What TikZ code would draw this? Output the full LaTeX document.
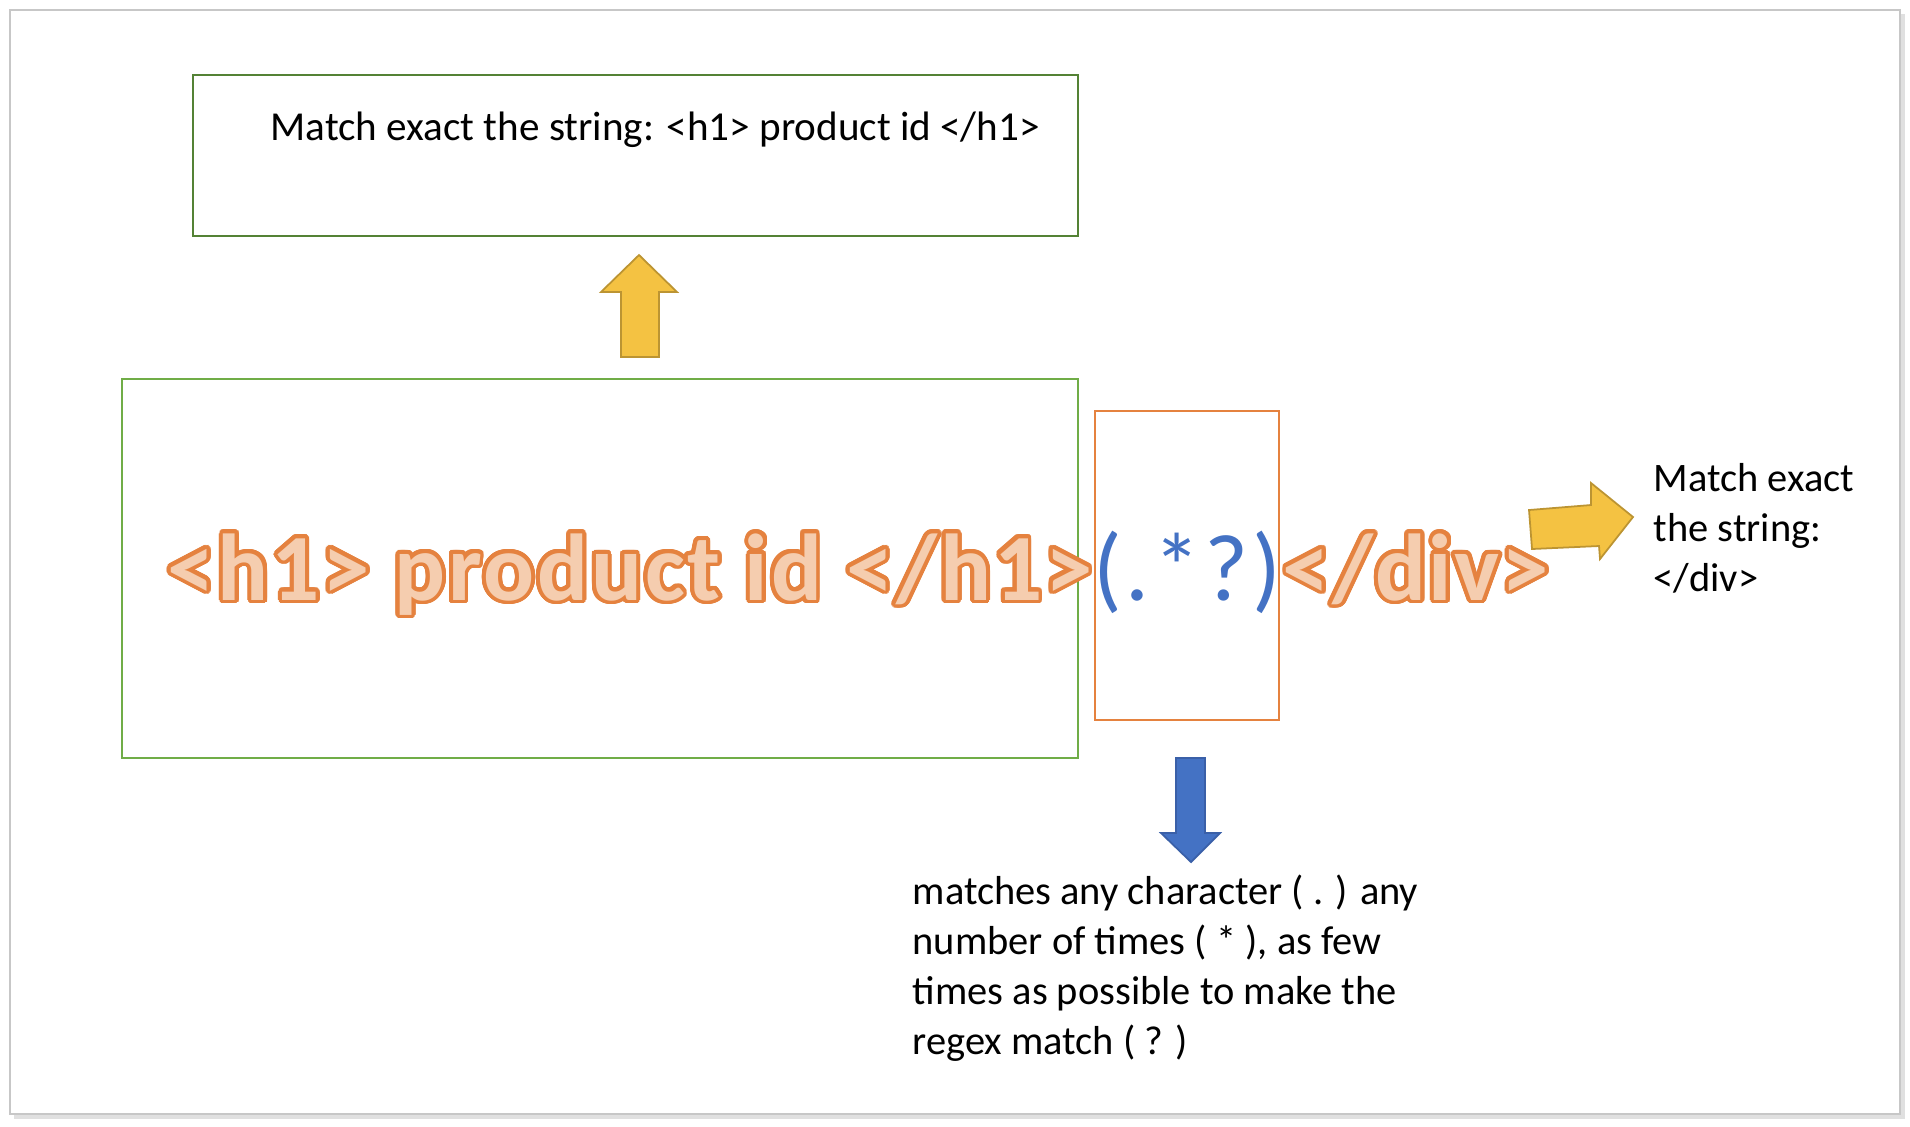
\documentclass[tikz,border=0pt]{standalone}
\usepackage{fontspec}
\setmainfont{Carlito}
\usepackage[copies]{contour}
\usetikzlibrary{positioning}
\definecolor{boxgreen}{HTML}{548235}
\definecolor{lightgreen}{HTML}{70AD47}
\definecolor{tagorange}{HTML}{E5823F}
\definecolor{tagfill}{HTML}{F5CDAF}
\definecolor{wildblue}{HTML}{4472C4}
\definecolor{bluedark}{HTML}{3A60A8}
\definecolor{arrowyellow}{HTML}{F4C242}
\definecolor{yellowdark}{HTML}{BC9432}
\contourlength{1.1pt}
\contournumber{32}
\tikzset{
  note/.style={font=\fontsize{11.5}{14.2}\selectfont, align=left, inner sep=0pt},
  bigtag/.style={font=\fontsize{27}{30}\selectfont\bfseries\addfontfeature{LetterSpace=#1}, text=tagfill, inner sep=0pt},
}
\begin{document}
\begin{tikzpicture}[x=0.01cm, y=-0.01cm]
	\useasboundingbox (0,0) rectangle (1910,1126);
	% frame with shadow
	\fill[black!12] (14,14) rectangle (1905,1119);
	\filldraw[fill=white, draw=black!22] (10,10) rectangle (1900,1114);
	% boxes
	\draw[boxgreen, line width=0.6pt] (193,75) rectangle (1078,236);
	\draw[lightgreen, line width=0.6pt] (122,379) rectangle (1078,758);
	\draw[tagorange, line width=0.6pt] (1095,411) rectangle (1279,720);
	% the regex
	\node[bigtag=3.0, anchor=base west] (opentag) at (167,600) {\contour{tagorange}{<h1> product id </h1>}};
	\node[inner sep=0pt, anchor=base west, font=\fontsize{27}{30}\selectfont\addfontfeature{LetterSpace=4}, text=wildblue] (lazy) at (opentag.base east) {(.*?)};
	\node[bigtag=2.4, anchor=base west] (closetag) at (lazy.base east) {\contour{tagorange}{</div>}};
	% block arrows
	\filldraw[fill=arrowyellow, draw=yellowdark, line width=0.5pt] (621,357) -- (621,292) -- (601,292) -- (639,255) -- (677,292) -- (659,292) -- (659,357) -- cycle;
	\filldraw[fill=arrowyellow, draw=yellowdark, line width=0.5pt] (1529,510) -- (1591,505) -- (1591,483) -- (1633,517) -- (1600,559) -- (1599,546) -- (1532,549) -- cycle;
	\filldraw[fill=wildblue, draw=bluedark, line width=0.5pt] (1176,758) -- (1205,758) -- (1205,833) -- (1220,833) -- (1191,862) -- (1161,833) -- (1176,833) -- cycle;
	% notes
	\node[note, font=\fontsize{11.7}{14.2}\selectfont, anchor=base west] (topnote) at (270,140) {Match exact the string: <h1> product id </h1>};
	\node[note, anchor=base west] (rightnote) at (1653,591) {Match exact\\the string:\\</div>};
	\node[note, anchor=base west] (bottomnote) at (912,1054) {matches any character ( . ) any\\number of times ( * ), as few\\times as possible to make the\\regex match ( ? )};
\end{tikzpicture}
\end{document}
